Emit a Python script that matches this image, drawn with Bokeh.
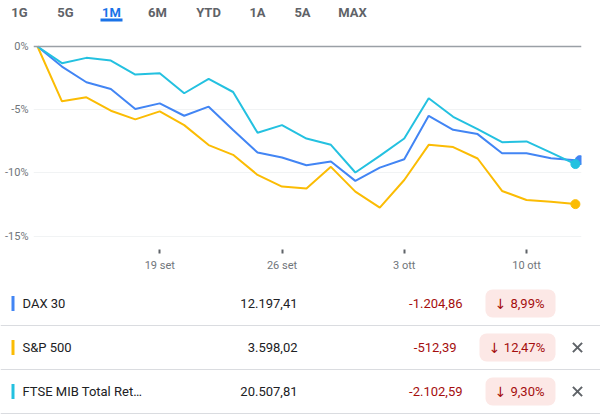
from bokeh.plotting import figure
from bokeh.layouts import column
from bokeh.models import Range1d, FixedTicker, Span, ColumnDataSource
from bokeh.transform import dodge
from bokeh.core.properties import value
from bokeh.embed import file_html
from bokeh.resources import INLINE

# ---------------- data ----------------
tabs = ["1G", "5G", "1M", "6M", "YTD", "1A", "5A", "MAX"]
active_tab = "1M"

dates = ["12 set", "13 set", "14 set", "15 set", "16 set",
         "19 set", "20 set", "21 set", "22 set", "23 set",
         "26 set", "27 set", "28 set", "29 set", "30 set",
         "3 ott", "4 ott", "5 ott", "6 ott", "7 ott",
         "10 ott", "11 ott", "12 ott"]
tick_labels = ["19 set", "26 set", "3 ott", "10 ott"]
y_ticks = [0, -5, -10, -15]

dax = [0, -1.59, -2.83, -3.36, -4.95, -4.50, -5.48, -4.76, -6.61, -8.39, -8.78,
       -9.39, -9.10, -10.63, -9.58, -8.92, -5.48, -6.59, -6.93, -8.44, -8.44, -8.84, -8.99]
spx = [0, -4.34, -4.02, -5.08, -5.77, -5.13, -6.22, -7.80, -8.57, -10.16, -11.08,
       -11.24, -9.52, -11.48, -12.75, -10.56, -7.78, -7.96, -8.86, -11.43, -12.14, -12.28, -12.47]
ftse = [0, -1.32, -0.90, -1.11, -2.22, -2.12, -3.70, -2.57, -3.60, -6.83, -6.22,
        -7.28, -7.78, -9.97, -8.65, -7.28, -4.10, -5.56, -6.53, -7.57, -7.51, -8.39, -9.30]

names = ["DAX 30", "S&P 500", "FTSE MIB Total Ret…"]
prices = ["12.197,41", "3.598,02", "20.507,81"]
changes = ["-1.204,86", "-512,39", "-2.102,59"]
pcts = ["8,99%", "12,47%", "9,30%"]
removable = [False, True, True]

# ---------------- styles ----------------
colors = ["#4285F4", "#FBBC04", "#24C1E0"]
FONT = "Roboto"
GRAY = "#5f6368"
LABEL = "#70757a"
RED = "#a50e0e"

def blank(w, h, xr, yr):
    f = figure(width=w, height=h, x_range=xr, y_range=yr, output_backend="svg",
               toolbar_location=None, min_border=0, min_border_left=0, min_border_right=0,
               min_border_top=0, min_border_bottom=0, outline_line_color=None,
               x_axis_location=None, y_axis_location=None, frame_align=False)
    f.grid.visible = False
    f.border_fill_color = "white"
    return f

# ---------------- tabs ----------------
tab_x = [19, 65, 111, 157, 208, 257, 302, 352]
t = blank(600, 30, Range1d(0, 600), Range1d(30, 0))
t.text(x=tab_x, y=[12] * len(tabs), text=tabs,
       text_color=["#1a73e8" if s == active_tab else GRAY for s in tabs],
       text_align="center", text_baseline="middle", text_font=value(FONT),
       text_font_size="13px", text_font_style="bold")
ai = tabs.index(active_tab)
t.quad(left=[tab_x[ai] - 11], right=[tab_x[ai] + 11], top=[18], bottom=[21],
       fill_color="#1a73e8", line_color=None)

# ---------------- chart ----------------
xs = list(range(len(dates)))
px_per_step = 24.45
p = figure(width=600, height=252,
           x_range=Range1d(-4 / px_per_step, 544 / px_per_step),
           y_range=Range1d(-16.06, 0.79),
           output_backend="svg", toolbar_location=None,
           min_border_left=33, min_border_right=19, min_border_top=6, min_border_bottom=33,
           outline_line_color=None, frame_align=False)
p.border_fill_color = "white"
p.xgrid.visible = False
p.ygrid.grid_line_color = "#f1f3f4"
p.ygrid.grid_line_width = 1

p.yaxis.ticker = FixedTicker(ticks=y_ticks)
p.yaxis.major_label_overrides = {v: f"{v}%" for v in y_ticks}
p.yaxis.axis_line_color = None
p.yaxis.major_tick_line_color = None
p.yaxis.minor_tick_line_color = None
p.yaxis.major_tick_out = 0
p.yaxis.major_tick_in = 0
p.yaxis.major_label_standoff = 5

tick_idx = [dates.index(d) for d in tick_labels]
p.xaxis.ticker = FixedTicker(ticks=tick_idx)
p.xaxis.major_label_overrides = {i: dates[i] for i in tick_idx}
p.xaxis.axis_line_color = None
p.xaxis.minor_tick_line_color = None
p.xaxis.major_tick_in = 0
p.xaxis.major_tick_out = 4
p.xaxis.major_tick_line_color = GRAY
p.xaxis.major_tick_line_width = 2
p.xaxis.major_label_standoff = 5

for ax in (p.xaxis, p.yaxis):
    ax.major_label_text_font = FONT
    ax.major_label_text_font_size = "11px"
    ax.major_label_text_color = LABEL

p.add_layout(Span(location=0, dimension="width", line_color="#9aa0a6", line_width=1.5))

series = [dax, spx, ftse]
for vals, c in zip(series, colors):
    p.line(xs, vals, line_color=c, line_width=2)

dot_shift = [0.18, 0, 0]
for vals, c, sh in zip(series, colors, dot_shift):
    src = ColumnDataSource(dict(x=[xs[-1]], y=[vals[-1]]))
    p.scatter(x=dodge("x", sh, range=p.x_range), y="y", source=src, size=9,
              fill_color=c, line_color=c)

# ---------------- table ----------------
tb = blank(600, 138, Range1d(0, 600), Range1d(138, 0))
n = len(names)
row_y = [21 + 44 * i for i in range(n)]
sep_y = [43 + 44 * i for i in range(n)]
tb.segment(x0=[0] * n, x1=[600] * n, y0=sep_y, y1=sep_y, line_color="#dadce0", line_width=1)
tb.rect(x=[12.5] * n, y=row_y, width=3, height=15, fill_color=colors, line_color=None)
tb.text(x=[22] * n, y=row_y, text=names, text_color="#202124", text_font=value(FONT),
        text_font_size="13px", text_align="left", text_baseline="middle")
tb.text(x=[297] * n, y=row_y, text=prices, text_color="#202124", text_font=value(FONT),
        text_font_size="13px", text_align="right", text_baseline="middle")

badge_right = 555
badge_w = [40 + 6 * len(s) for s in pcts]
badge_left = [badge_right - w for w in badge_w]
badge_cx = [badge_right - w / 2 for w in badge_w]
tb.rect(x=badge_cx, y=row_y, width=badge_w, height=28, fill_color="#fce8e6",
        line_color=None, border_radius=7)
tb.text(x=[l + 15 for l in badge_left], y=[y + 0.5 for y in row_y], text=["↓"] * n,
        text_color=RED, text_font=value("DejaVu Sans"), text_font_size="14px",
        text_align="center", text_baseline="middle")
tb.text(x=[(l + 22 + badge_right - 8) / 2 for l in badge_left], y=row_y, text=pcts,
        text_color=RED, text_font=value(FONT), text_font_size="13px",
        text_align="center", text_baseline="middle")
tb.text(x=[l - 23 for l in badge_left], y=row_y, text=changes, text_color=RED,
        text_font=value(FONT), text_font_size="13px", text_align="right",
        text_baseline="middle")
xr = [y for y, r in zip(row_y, removable) if r]
tb.scatter(x=[577] * len(xr), y=xr, marker="x", size=13, line_color=GRAY, line_width=2)

layout = column(t, p, tb, spacing=0)
open("out.html", "w").write(file_html(layout, INLINE))
